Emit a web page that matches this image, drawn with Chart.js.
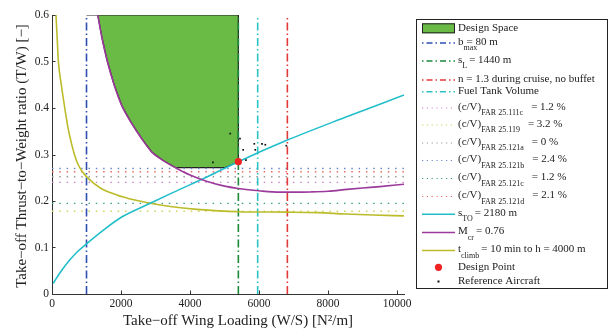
<!DOCTYPE html>
<html>
<head>
<meta charset="utf-8">
<script src="https://cdn.jsdelivr.net/npm/chart.js@4.4.0/dist/chart.umd.min.js"></script>
<style>
    html, body { margin: 0; padding: 0; background: #fff; }
    #wrap { width: 609px; height: 331px; }
</style>
</head>
<body>
<div id="wrap"><canvas id="chart" width="609" height="331"></canvas></div>
<script>
// ---- values ----
const xTicks = [0, 2000, 4000, 6000, 8000, 10000];
const yTicks = [0, 0.1, 0.2, 0.3, 0.4, 0.5, 0.6];
const xMax = 10200;
const yMax = 0.6;

// vertical constraints, wing loading W/S
const bMaxX = 1000;
const sLandingX = 5400;
const cruiseNX = 6820;
const fuelTankX = 5960;

// climb gradient constraints, T/W
const far111cY = 0.240;
const far119Y = 0.178;
const far121aY = 0.252;
const far121bY = 0.270;
const far121cY = 0.195;
const far121dY = 0.263;

// take-off distance s_TO = 2180 m
const takeoffX = [38, 120, 252, 500, 750, 1016, 1500, 2031, 2844, 3500, 4500, 5400, 6820, 8500, 10200];
const takeoffY = [0.023, 0.033, 0.048, 0.072, 0.092, 0.109, 0.138, 0.166, 0.195, 0.218, 0.252, 0.2845, 0.331, 0.380, 0.428];

// cruise Mach M_cr = 0.76
const cruiseX = [1326, 1450, 1605, 1800, 2023, 2300, 2600, 2893, 3200, 3580, 4000, 4500, 5000, 5400, 6000, 6600, 7000, 7500, 8000, 8550, 9000, 9500, 10200];
const cruiseY = [0.6, 0.55, 0.5, 0.45, 0.405, 0.368, 0.334, 0.305, 0.288, 0.2716, 0.256, 0.242, 0.232, 0.227, 0.222, 0.219, 0.219, 0.2195, 0.221, 0.225, 0.228, 0.231, 0.236];

// time to climb t_climb = 10 min to h = 4000 m
const climbX = [116, 150, 185, 270, 370, 470, 560, 650, 746, 870, 1006, 1400, 1877, 2400, 2844, 3424, 4200, 5400, 6820, 7700, 8500, 9300, 10200];
const climbY = [0.6, 0.55, 0.5, 0.45, 0.4, 0.355, 0.325, 0.3, 0.28, 0.264, 0.252, 0.228, 0.213, 0.202, 0.195, 0.188, 0.182, 0.177, 0.176, 0.175, 0.172, 0.170, 0.168];

// lower edge of the design space (top edge is the axis limit)
const designX = [1326, 1450, 1605, 1800, 2023, 2300, 2600, 2893, 3200, 3580, 5000, 5400];
const designY = [0.6, 0.55, 0.5, 0.45, 0.405, 0.368, 0.334, 0.305, 0.288, 0.2716, 0.2716, 0.2845];

const designPointX = [5400];
const designPointY = [0.2845];

const refX = [5165, 5447, 4663, 5540, 5862, 5891, 6085, 6181, 6790, 5621];
const refY = [0.345, 0.334, 0.283, 0.310, 0.323, 0.310, 0.323, 0.321, 0.319, 0.288];

// ---- styles ----
const FONT = '"Liberation Serif", "Times New Roman", serif';
const TEXT = '#222';
const GREEN_FILL = '#6aba46';
const DASHDOT = [8, 3, 1.5, 3];
const DOTS = [1.5, 5.8];

const colors = {
    bmax: '#2e4fb0',
    sL: '#1a8a3a',
    n13: '#e23a3a',
    fuel: '#2cc3c3',
    sTO: '#22bfca',
    mcr: '#9c3a9c',
    climb: '#bcbc2a',
    f111c: '#d47fc8',
    f119: '#d2d25a',
    f121a: '#9a9a9a',
    f121b: '#6f86cc',
    f121c: '#3f9e88',
    f121d: '#ee6a6a'
};

const pts = (xs, ys) => xs.map((x, i) => ({ x, y: ys[i] }));
const vline = x => [{ x, y: 0 }, { x, y: yMax }];
const hline = y => [{ x: 0, y }, { x: xMax, y }];

function lineSet(data, color, width, dash, order, smooth) {
    return {
        type: 'line', data, borderColor: color, borderWidth: width,
        borderDash: dash || [], pointRadius: 0, fill: false, order,
        cubicInterpolationMode: smooth ? 'monotone' : 'default'
    };
}

const datasets = [
    {
        type: 'scatter', data: pts(designPointX, designPointY), pointRadius: 3.6,
        pointBackgroundColor: '#f02222', pointBorderWidth: 0, order: 0
    },
    {
        type: 'scatter', data: pts(refX, refY), pointRadius: 1.2, pointStyle: 'rect',
        pointBackgroundColor: '#111', pointBorderWidth: 0, order: 1
    },
    lineSet(pts(cruiseX, cruiseY), colors.mcr, 1.6, null, 2, true),
    lineSet(pts(takeoffX, takeoffY), colors.sTO, 1.6, null, 3, true),
    lineSet(pts(climbX, climbY), colors.climb, 1.6, null, 4, true),
    lineSet(vline(bMaxX), colors.bmax, 1.6, DASHDOT, 5),
    lineSet(vline(sLandingX), colors.sL, 1.6, DASHDOT, 5),
    lineSet(vline(cruiseNX), colors.n13, 1.6, DASHDOT, 5),
    lineSet(vline(fuelTankX), colors.fuel, 1.6, DASHDOT, 5),
    lineSet(hline(far111cY), colors.f111c, 1.4, DOTS, 6),
    lineSet(hline(far119Y), colors.f119, 1.4, DOTS, 6),
    lineSet(hline(far121aY), colors.f121a, 1.4, DOTS, 6),
    lineSet(hline(far121bY), colors.f121b, 1.4, DOTS, 6),
    lineSet(hline(far121cY), colors.f121c, 1.4, DOTS, 6),
    lineSet(hline(far121dY), colors.f121d, 1.4, DOTS, 6),
    // design space outline: top and right edge
    lineSet([{ x: bMaxX, y: yMax }, { x: sLandingX, y: yMax }, { x: sLandingX, y: designPointY[0] }], '#222', 1.2, null, 7),
    {
        type: 'line', data: pts(designX, designY), borderColor: '#222', borderWidth: 1.2,
        backgroundColor: GREEN_FILL, fill: 'end', pointRadius: 0, order: 8
    }
];

// legend entries (drawn by the plugin below)
const legendItems = [
    { kind: 'patch', main: 'Design Space' },
    { kind: 'line', color: colors.bmax, dash: [1.5, 3, 6, 3], main: 'b', sub: 'max', rest: '= 80 m', overlap: true },
    { kind: 'line', color: colors.sL, dash: [1.5, 3, 6, 3], main: 's', sub: 'L', rest: '= 1440 m' },
    { kind: 'line', color: colors.n13, dash: [1.5, 3, 6, 3], main: 'n = 1.3 during cruise, no buffet' },
    { kind: 'line', color: colors.fuel, dash: [1.5, 3, 6, 3], main: 'Fuel Tank Volume' },
    { kind: 'dots', color: colors.f111c, main: '(c/V)', sub: 'FAR 25.111c', rest: '= 1.2 %', gap: 8 },
    { kind: 'dots', color: colors.f119, main: '(c/V)', sub: 'FAR 25.119', rest: '= 3.2 %', gap: 8 },
    { kind: 'dots', color: colors.f121a, main: '(c/V)', sub: 'FAR 25.121a', rest: '= 0 %', gap: 8 },
    { kind: 'dots', color: colors.f121b, main: '(c/V)', sub: 'FAR 25.121b', rest: '= 2.4 %', gap: 8 },
    { kind: 'dots', color: colors.f121c, main: '(c/V)', sub: 'FAR 25.121c', rest: '= 1.2 %', gap: 8 },
    { kind: 'dots', color: colors.f121d, main: '(c/V)', sub: 'FAR 25.121d', rest: '= 2.1 %', gap: 8 },
    { kind: 'solid', color: colors.sTO, main: 's', sub: 'TO', rest: '= 2180 m' },
    { kind: 'solid', color: colors.mcr, main: 'M', sub: 'cr', rest: '= 0.76' },
    { kind: 'solid', color: colors.climb, main: 't', sub: 'climb', rest: '= 10 min to h = 4000 m' },
    { kind: 'point', main: 'Design Point' },
    { kind: 'ref', main: 'Reference Aircraft' }
];
const legendRows = [28.3, 42, 60, 79, 90.7, 107, 124, 142, 159.5, 177.5, 195.5, 213.3, 231.5, 249.5, 267.3, 281];

function drawLegend(ctx) {
    const L = 416.5, T = 19.5, R = 607.5, B = 288.5;
    ctx.fillStyle = '#fff';
    ctx.fillRect(L, T, R - L, B - T);
    ctx.strokeStyle = '#222';
    ctx.lineWidth = 1;
    ctx.strokeRect(L, T, R - L, B - T);

    const x0 = 422, x1 = 455, tx = 458;
    legendItems.forEach((it, i) => {
        const y = legendRows[i];
        ctx.save();
        if (it.kind === 'patch') {
            ctx.fillStyle = GREEN_FILL;
            ctx.fillRect(x0, y - 5, x1 - x0, 10);
            ctx.strokeStyle = '#222';
            ctx.strokeRect(x0 + 0.5, y - 4.5, x1 - x0 - 1, 9);
        } else if (it.kind === 'point') {
            ctx.fillStyle = '#f02222';
            ctx.beginPath();
            ctx.arc(438.5, y, 3.6, 0, Math.PI * 2);
            ctx.fill();
        } else if (it.kind === 'ref') {
            ctx.fillStyle = '#111';
            ctx.fillRect(437.5, y - 0.5, 2, 2);
        } else {
            ctx.strokeStyle = it.color;
            ctx.lineWidth = it.kind === 'dots' ? 1.2 : 1.6;
            ctx.setLineDash(it.kind === 'dots' ? [1.2, 3.6] : (it.dash || []));
            ctx.beginPath();
            ctx.moveTo(x0, y + 1);
            ctx.lineTo(x1, y + 1);
            ctx.stroke();
        }
        ctx.restore();

        ctx.fillStyle = TEXT;
        ctx.textBaseline = 'middle';
        ctx.textAlign = 'left';
        ctx.font = '11px ' + FONT;
        ctx.fillText(it.main, tx, y);
        const end = tx + ctx.measureText(it.main).width;
        if (it.sub) {
            ctx.font = '8px ' + FONT;
            ctx.fillText(it.sub, end, y + 6);
            const subEnd = end + ctx.measureText(it.sub).width;
            const rx = it.overlap ? end + 3 : subEnd + (it.gap || 2);
            ctx.font = '11px ' + FONT;
            ctx.fillText(it.rest, rx, y);
        }
    });
}

const decorPlugin = {
    id: 'decor',
    afterDraw(chart) {
        const ctx = chart.ctx;
        const xs = chart.scales.x, ys = chart.scales.y;
        const area = chart.chartArea;
        ctx.save();

        // inward tick marks
        ctx.strokeStyle = '#333';
        ctx.lineWidth = 1;
        ctx.beginPath();
        xTicks.forEach(v => {
            const px = Math.round(xs.getPixelForValue(v)) + 0.5;
            ctx.moveTo(px, area.bottom);
            ctx.lineTo(px, area.bottom - 3.5);
        });
        yTicks.forEach(v => {
            const py = Math.round(ys.getPixelForValue(v)) + 0.5;
            ctx.moveTo(area.left, py);
            ctx.lineTo(area.left + 3.5, py);
        });
        ctx.stroke();

        // axis titles
        ctx.fillStyle = TEXT;
        ctx.font = '15px ' + FONT;
        ctx.textAlign = 'center';
        ctx.textBaseline = 'middle';
        ctx.fillText('Take\u2212off Wing Loading (W/S) [N\u00b2/m]', 238, 321);
        ctx.save();
        ctx.translate(22, 156);
        ctx.rotate(-Math.PI / 2);
        ctx.fillText('Take\u2212off Thrust\u2212to\u2212Weight ratio (T/W) [\u2212]', 0, 0);
        ctx.restore();

        drawLegend(ctx);
        ctx.restore();
    }
};

new Chart(document.getElementById('chart'), {
    type: 'scatter',
    data: { datasets },
    options: {
        responsive: false,
        animation: false,
        devicePixelRatio: 1,
        layout: { padding: { left: 0, top: 15, right: 205, bottom: 0 } },
        plugins: { legend: { display: false }, tooltip: { enabled: false } },
        scales: {
            x: {
                type: 'linear', min: 0, max: xMax,
                afterFit: s => { s.height = 37; },
                afterBuildTicks: s => { s.ticks = xTicks.map(v => ({ value: v })); },
                border: { color: '#333', width: 1 },
                grid: { display: false, drawTicks: false },
                ticks: {
                    maxRotation: 0, autoSkip: false,
                    padding: 3, color: TEXT, font: { family: FONT, size: 11.5 },
                    callback: v => String(v)
                }
            },
            y: {
                type: 'linear', min: 0, max: yMax,
                afterFit: s => { s.width = 52; },
                afterBuildTicks: s => { s.ticks = yTicks.map(v => ({ value: v })); },
                border: { color: '#333', width: 1 },
                grid: { display: false, drawTicks: false },
                ticks: {
                    autoSkip: false, padding: 3,
                    color: TEXT, font: { family: FONT, size: 11.5 },
                    callback: v => (v === 0 ? '0' : v.toFixed(1))
                }
            }
        }
    },
    plugins: [decorPlugin]
});
</script>
</body>
</html>
